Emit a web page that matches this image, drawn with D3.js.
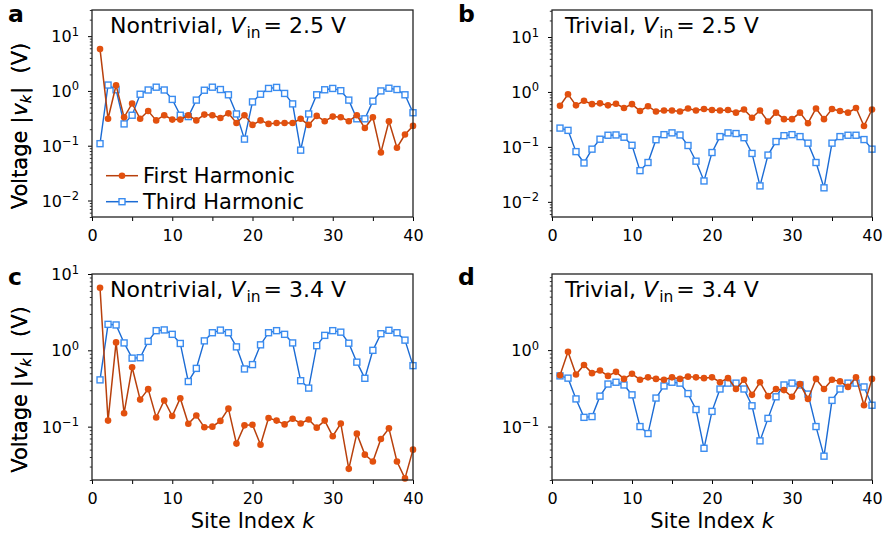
<!DOCTYPE html>
<html>
<head>
<meta charset="utf-8">
<script src="https://cdn.jsdelivr.net/npm/d3@7"></script>
<style>
  body { margin: 0; background: #fff; }
  svg { display: block; font-family: "DejaVu Sans", sans-serif; }
  text { white-space: pre; }
</style>
</head>
<body>
<svg id="chart" width="883" height="537"></svg>
<script>
// site index k
const siteIndex = [1,2,3,4,5,6,7,8,9,10,11,12,13,14,15,16,17,18,19,20,
                   21,22,23,24,25,26,27,28,29,30,31,32,33,34,35,36,37,38,39,40];

// panel a: nontrivial, Vin = 2.5 V
const firstA = [5.8,0.31,1.27,0.33,0.59,0.31,0.43,0.29,0.36,0.30,0.30,0.36,0.29,0.37,0.36,0.32,0.39,0.26,0.36,0.24,
                0.29,0.25,0.26,0.26,0.26,0.31,0.24,0.35,0.28,0.34,0.33,0.28,0.36,0.21,0.33,0.075,0.28,0.092,0.16,0.23];
const thirdA = [0.109,1.28,1.05,0.25,0.36,0.87,1.04,1.17,1.04,0.70,0.36,0.34,0.68,1.03,1.17,1.06,0.85,0.38,0.132,0.63,
                0.87,1.11,1.16,0.90,0.58,0.083,0.38,0.85,1.05,1.11,1.01,0.68,0.31,0.31,0.65,1.0,1.12,1.06,0.85,0.40];

// panel b: trivial, Vin = 2.5 V
const firstB = [0.56,0.91,0.57,0.69,0.60,0.62,0.57,0.61,0.51,0.60,0.45,0.55,0.44,0.46,0.46,0.44,0.50,0.46,0.49,0.47,
                0.46,0.47,0.42,0.48,0.34,0.46,0.29,0.42,0.32,0.32,0.42,0.27,0.50,0.32,0.49,0.45,0.42,0.51,0.24,0.48];
const thirdB = [0.22,0.20,0.082,0.051,0.091,0.138,0.163,0.165,0.150,0.107,0.037,0.052,0.135,0.167,0.18,0.165,0.106,0.055,0.024,0.079,
                0.154,0.18,0.175,0.147,0.076,0.0195,0.071,0.125,0.16,0.167,0.154,0.117,0.052,0.018,0.117,0.154,0.163,0.163,0.136,0.091];

// panel c: nontrivial, Vin = 3.4 V
const firstC = [6.6,0.12,1.27,0.15,0.60,0.226,0.31,0.132,0.22,0.138,0.236,0.109,0.14,0.098,0.10,0.119,0.172,0.06,0.104,0.106,
                0.058,0.13,0.12,0.107,0.127,0.11,0.124,0.097,0.12,0.075,0.11,0.028,0.081,0.043,0.035,0.069,0.095,0.035,0.021,0.050];
const thirdC = [0.41,2.19,2.15,1.25,0.79,0.80,1.31,1.81,1.85,1.62,1.23,0.39,0.58,1.33,1.70,1.84,1.70,1.11,0.57,0.65,
                1.18,1.70,1.81,1.62,1.25,0.40,0.32,1.15,1.57,1.81,1.73,1.24,0.70,0.43,1.0,1.65,1.83,1.70,1.36,0.63];

// panel d: trivial, Vin = 3.4 V
const firstD = [0.47,0.95,0.48,0.64,0.50,0.54,0.46,0.52,0.42,0.49,0.41,0.44,0.42,0.41,0.44,0.42,0.45,0.44,0.43,0.44,
                0.38,0.43,0.31,0.41,0.26,0.38,0.25,0.31,0.30,0.245,0.36,0.23,0.42,0.31,0.41,0.39,0.33,0.44,0.19,0.42];
const thirdD = [0.46,0.43,0.23,0.132,0.135,0.25,0.36,0.38,0.35,0.26,0.10,0.081,0.236,0.34,0.38,0.37,0.27,0.167,0.052,0.158,
                0.31,0.37,0.37,0.31,0.187,0.065,0.128,0.245,0.35,0.37,0.35,0.266,0.10,0.041,0.22,0.31,0.37,0.37,0.33,0.19];

const xTicks = [0,5,10,15,20,25,30,35,40];
const xTickLabels = ["0","","10","","20","","30","","40"];
const seriesNames = ["First Harmonic", "Third Harmonic"];

const firstLine = "#b8400c", firstDot = "#e2500e";
const thirdLine = "#1b6bd4", thirdBox = "#3a8cf0";

const panels = [
  {letter: "a", kind: "Nontrivial", vin: "2.5", first: firstA, third: thirdA, yDomain: [0.005, 30],
   yTicks: [0.01, 0.1, 1, 10], left: 92, top: 10, width: 321, height: 207, titleX: 110, letterX: 8, letterY: 22, legend: true, xlabel: false},
  {letter: "b", kind: "Trivial", vin: "2.5", first: firstB, third: thirdB, yDomain: [0.0053, 31],
   yTicks: [0.01, 0.1, 1, 10], left: 552, top: 10, width: 320, height: 207, titleX: 565, letterX: 458, letterY: 22, legend: false, xlabel: false},
  {letter: "c", kind: "Nontrivial", vin: "3.4", first: firstC, third: thirdC, yDomain: [0.02, 10],
   yTicks: [0.1, 1, 10], left: 92, top: 274, width: 321, height: 206, titleX: 110, letterX: 8, letterY: 285, legend: false, xlabel: true},
  {letter: "d", kind: "Trivial", vin: "3.4", first: firstD, third: thirdD, yDomain: [0.02, 9.9],
   yTicks: [0.1, 1], left: 552, top: 274, width: 320, height: 206, titleX: 565, letterX: 458, letterY: 285, legend: false, xlabel: true}
];

const svg = d3.select("#chart");

function minorTicks(domain) {
  const out = [];
  for (let e = Math.floor(Math.log10(domain[0])); e <= Math.ceil(Math.log10(domain[1])); e++) {
    for (let m = 2; m <= 9; m++) {
      const v = m * Math.pow(10, e);
      if (v >= domain[0] && v <= domain[1]) out.push(v);
    }
  }
  return out;
}

function drawSquare(sel, x0, y0) {
  sel.append("rect")
    .attr("x", x0 - 3).attr("y", y0 - 3)
    .attr("width", 6).attr("height", 6)
    .attr("fill", "#fff").attr("stroke", thirdBox).attr("stroke-width", 1.4);
}

function drawPanel(p) {
  const g = svg.append("g").attr("transform", `translate(${p.left},${p.top})`);

  const x = d3.scaleLinear().domain([0, 40]).range([0, p.width]);
  const y = d3.scaleLog().domain(p.yDomain).range([p.height, 0]);

  // x axis
  const xAxis = g.append("g")
    .attr("transform", `translate(0,${p.height})`)
    .call(d3.axisBottom(x).tickValues(xTicks).tickSize(4).tickPadding(9)
      .tickFormat((d, i) => xTickLabels[i]));
  xAxis.select(".domain").remove();
  xAxis.selectAll("line").attr("stroke", "#000").attr("stroke-width", 1);
  xAxis.selectAll("text").attr("font-size", 16).attr("fill", "#000")
    .attr("font-family", "DejaVu Sans");

  // y axis minor ticks
  const yMinor = g.append("g")
    .call(d3.axisLeft(y).tickValues(minorTicks(p.yDomain)).tickSize(2.2).tickFormat(""));
  yMinor.select(".domain").remove();
  yMinor.selectAll("line").attr("stroke", "#000").attr("stroke-width", 0.8);

  // y axis major ticks, labels as 10^n
  const yMajor = g.append("g")
    .call(d3.axisLeft(y).tickValues(p.yTicks).tickSize(4).tickFormat(""));
  yMajor.select(".domain").remove();
  yMajor.selectAll("line").attr("stroke", "#000").attr("stroke-width", 1);
  yMajor.selectAll(".tick").each(function (d) {
    const ex = Math.round(Math.log10(d));
    const t = d3.select(this).append("text")
      .attr("x", -13).attr("y", 5.5)
      .attr("text-anchor", "end").attr("fill", "#000")
      .attr("font-size", 16).attr("font-family", "DejaVu Sans");
    t.append("tspan").text("10");
    t.append("tspan").attr("dy", -6.5).attr("font-size", 11.5)
      .text(ex < 0 ? "\u2212" + (-ex) : String(ex));
  });

  // data
  const plot = g.append("g");
  const lineGen = arr => d3.line()
    .x((d, i) => x(siteIndex[i]))
    .y(d => y(d))(arr);

  plot.append("path").attr("d", lineGen(p.third))
    .attr("fill", "none").attr("stroke", thirdLine).attr("stroke-width", 1.4);
  p.third.forEach((v, i) => drawSquare(plot, x(siteIndex[i]), y(v)));

  plot.append("path").attr("d", lineGen(p.first))
    .attr("fill", "none").attr("stroke", firstLine).attr("stroke-width", 1.5);
  plot.selectAll("circle.first").data(p.first).enter().append("circle")
    .attr("class", "first")
    .attr("cx", (d, i) => x(siteIndex[i]))
    .attr("cy", d => y(d))
    .attr("r", 3.3)
    .attr("fill", firstDot);

  // frame
  g.append("rect").attr("width", p.width).attr("height", p.height)
    .attr("fill", "none").attr("stroke", "#222").attr("stroke-width", 1.3);

  // title
  const title = g.append("text")
    .attr("x", p.titleX - p.left).attr("y", 23)
    .attr("font-size", 22).attr("fill", "#000");
  title.append("tspan").text(p.kind + ", ");
  title.append("tspan").attr("font-style", "italic").text("V");
  title.append("tspan").attr("dx", 1).attr("dy", 5).attr("font-size", 15.5).text("in");
  title.append("tspan").attr("dx", 3).attr("dy", -5).text("= " + p.vin + " V");

  // panel letter
  svg.append("text")
    .attr("x", p.letterX).attr("y", p.letterY)
    .attr("font-size", 23.5).attr("font-weight", "bold").attr("fill", "#000")
    .text(p.letter);

  // y label
  const yl = svg.append("text")
    .attr("transform", `translate(27,${p.top + p.height / 2 + 12.5}) rotate(-90)`)
    .attr("text-anchor", "middle")
    .attr("font-size", 21).attr("fill", "#000");
  yl.append("tspan").text("Voltage |");
  yl.append("tspan").attr("font-style", "italic").attr("dx", 1).text("v");
  yl.append("tspan").attr("dy", 4).attr("font-size", 14.5).attr("font-style", "italic").text("k");
  yl.append("tspan").attr("dy", -4).attr("dx", 1).text("|  (V)");

  // x label
  if (p.xlabel) {
    const xl = svg.append("text")
      .attr("x", p.left + p.width / 2).attr("y", 528)
      .attr("text-anchor", "middle")
      .attr("font-size", 21).attr("fill", "#000");
    xl.append("tspan").text("Site Index ");
    xl.append("tspan").attr("font-style", "italic").text("k");
  }

  // legend
  if (p.legend) {
    const lg = g.append("g").attr("transform", "translate(14,165.7)");
    const rows = [
      {name: seriesNames[0], color: firstLine, y: 0},
      {name: seriesNames[1], color: thirdLine, y: 26}
    ];
    rows.forEach((r, i) => {
      lg.append("line").attr("x1", 0).attr("x2", 32).attr("y1", r.y).attr("y2", r.y)
        .attr("stroke", r.color).attr("stroke-width", 1.5);
      if (i === 0) {
        lg.append("circle").attr("cx", 16).attr("cy", r.y).attr("r", 3.3).attr("fill", firstDot);
      } else {
        drawSquare(lg, 16, r.y);
      }
      lg.append("text").attr("x", 37).attr("y", r.y + 7.6)
        .attr("font-size", 21).attr("fill", "#000").text(r.name);
    });
  }
}

panels.forEach(drawPanel);
</script>
</body>
</html>
